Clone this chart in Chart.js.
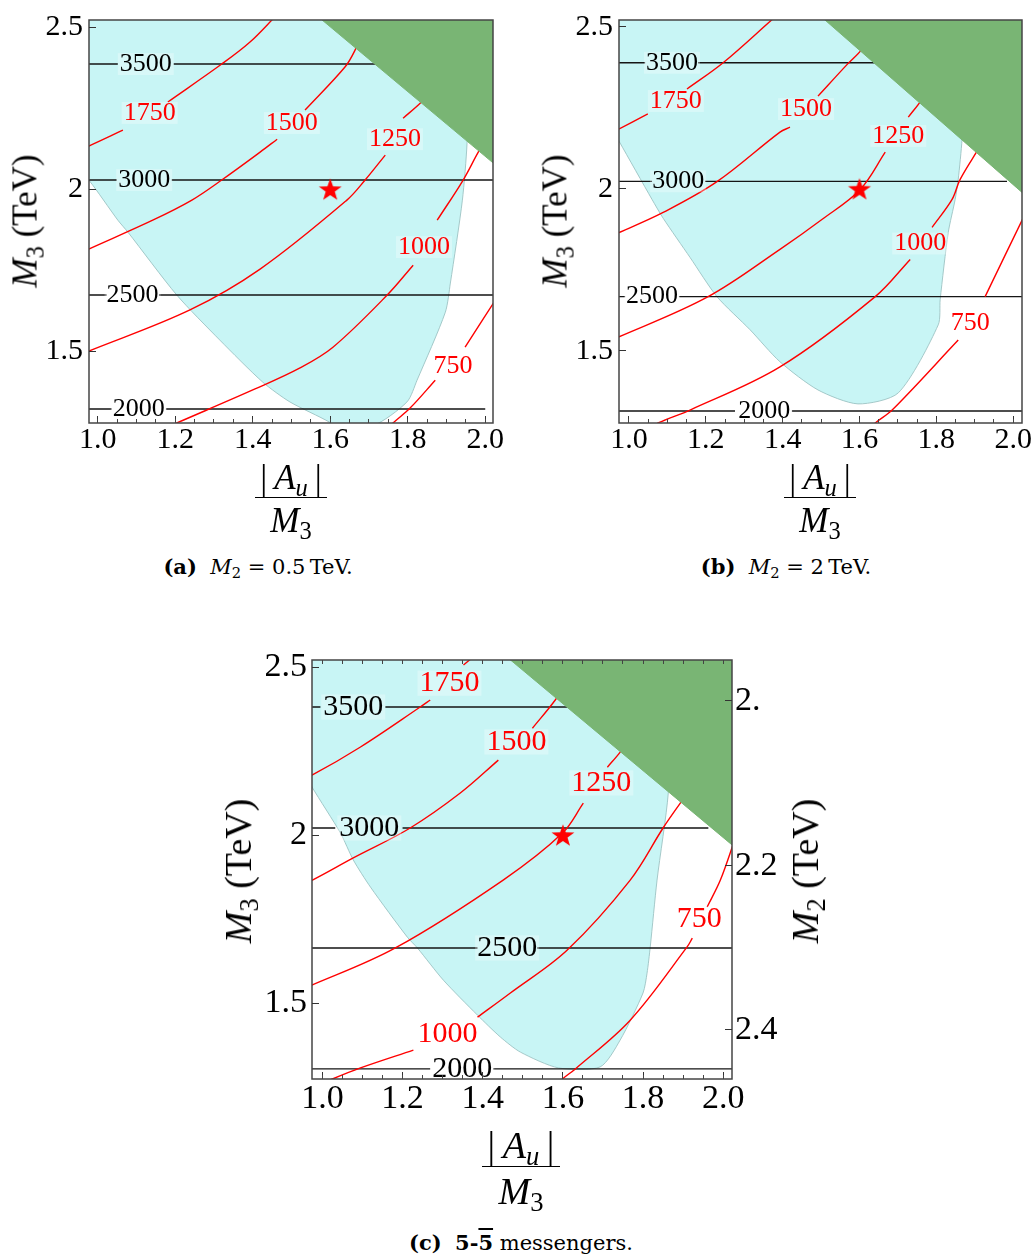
<!DOCTYPE html>
<html><head><meta charset="utf-8">
<script src="https://cdn.jsdelivr.net/npm/chart.js@4.4.1/dist/chart.umd.min.js"></script>
<style>
 html,body{margin:0;padding:0;background:#fff;}
 #wrap{position:relative;width:1035px;height:1256px;overflow:hidden;font-family:'Liberation Serif','Times New Roman',serif;color:#000;}
 canvas{position:absolute;}
 .t{position:absolute;white-space:nowrap;line-height:1;}
 .rot{transform:translate(-50%,-50%) rotate(-90deg);}
 sub{font-size:0.7em;vertical-align:-0.28em;line-height:0;}
 .fr{position:absolute;height:0;border-top:1.6px solid #000;transform:translateX(-50%);}
 .fr .n,.fr .d{position:absolute;left:50%;transform:translateX(-50%);white-space:nowrap;line-height:1;}
 .fr .n{bottom:3px;}
 .fr .d{top:5px;}
 .cap{position:absolute;transform:translate(-50%,-50%);font-family:'DejaVu Serif',serif;font-size:21px;white-space:nowrap;line-height:1;}
 .ov{text-decoration:overline;}
</style></head>
<body><div id="wrap">
<canvas id="ca" width="520" height="470" style="left:0;top:0"></canvas>
<canvas id="cb" width="510" height="470" style="left:525px;top:0"></canvas>
<canvas id="cc" width="560" height="500" style="left:230px;top:640px"></canvas>

<div class="t rot" style="left:25px;top:221px;font-size:35px"><i>M</i><sub>3</sub> (TeV)</div>
<div class="t rot" style="left:555px;top:221px;font-size:35px"><i>M</i><sub>3</sub> (TeV)</div>
<div class="t rot" style="left:238px;top:871px;font-size:38px"><i>M</i><sub>3</sub> (TeV)</div>
<div class="t rot" style="left:805px;top:871px;font-size:38px"><i>M</i><sub>2</sub> (TeV)</div>

<div class="fr" style="left:291px;top:497px;width:72px;font-size:35px"><div class="n">|&thinsp;<i>A</i><sub><i>u</i></sub>&thinsp;|</div><div class="d"><i>M</i><sub>3</sub></div></div>
<div class="fr" style="left:820px;top:497px;width:72px;font-size:35px"><div class="n">|&thinsp;<i>A</i><sub><i>u</i></sub>&thinsp;|</div><div class="d"><i>M</i><sub>3</sub></div></div>
<div class="fr" style="left:521px;top:1166px;width:78px;font-size:38px"><div class="n">|&thinsp;<i>A</i><sub><i>u</i></sub>&thinsp;|</div><div class="d"><i>M</i><sub>3</sub></div></div>

<div class="cap" style="left:258px;top:567px"><b>(a)</b>&nbsp; <i>M</i><sub>2</sub> = 0.5&thinsp;TeV.</div>
<div class="cap" style="left:786px;top:567px"><b>(b)</b>&nbsp; <i>M</i><sub>2</sub> = 2&thinsp;TeV.</div>
<div class="cap" style="left:521px;top:1243px"><b>(c)</b>&nbsp; <b>5-<span class="ov">5</span></b> messengers.</div>
</div>
<script>
// ---------- shared axis data ----------
const xTickValues = [1.0, 1.2, 1.4, 1.6, 1.8, 2.0];
const xTickLabels = ['1.0', '1.2', '1.4', '1.6', '1.8', '2.0'];
const xMinorValues = [1.0,1.05,1.1,1.15,1.2,1.25,1.3,1.35,1.4,1.45,1.5,1.55,1.6,1.65,1.7,1.75,1.8,1.85,1.9,1.95,2.0];
const yTickValues = [1.5, 2.0, 2.5];
const yTickLabels = ['1.5', '2', '2.5'];
const m2TickAt = [2.399, 1.908, 1.420];      // M3 positions of the M2 ticks (panel c, right axis)
const m2TickLabels = ['2.', '2.2', '2.4'];
const starPoint = [1.6, 2.0];
const redLevels = ['1750', '1500', '1250', '1000', '750'];
const blackLevels = ['3500', '3000', '2500', '2000'];

// ---------- panel (a) M2 = 0.5 TeV ----------
const aCyan = [[0.90,2.60],[1.965,2.60],[1.953,2.142],[1.941,1.966],[1.910,1.710],[1.897,1.620],[1.824,1.410],[1.798,1.343],[1.710,1.270],[1.600,1.270],[1.599,1.280],[1.496,1.343],[1.426,1.404],[1.315,1.534],[1.204,1.673],[1.078,1.867],[1.052,1.904],[0.977,2.028],[0.90,2.13]];
const aGreen = [[1.501,2.60],[2.10,2.001],[2.10,2.60]];
const a1750 = [[0.95,2.12],[0.977,2.133],[1.065,2.182],null,[1.181,2.269],[1.320,2.386],[1.393,2.454],[1.460,2.535]];
const a1500 = [[0.95,1.80],[0.977,1.815],[1.142,1.904],[1.243,1.966],[1.320,2.028],[1.419,2.114],[1.463,2.154],null,[1.535,2.244],[1.638,2.377],[1.664,2.429],[1.698,2.522]];
const a1250 = [[0.95,1.488],[0.977,1.500],[1.238,1.627],[1.419,1.753],[1.643,1.966],[1.690,2.028],[1.742,2.105],null,[1.788,2.219],[1.832,2.265],[1.884,2.33]];
const a1000 = [[1.17,1.26],[1.204,1.278],[1.406,1.383],[1.522,1.448],[1.607,1.512],[1.747,1.673],[1.814,1.765],null,[1.876,1.904],[1.943,2.028],[1.982,2.114],[2.03,2.21]];
const a750 = [[1.74,1.25],[1.762,1.278],[1.806,1.324],[1.871,1.410],null,[1.948,1.512],[2.03,1.665]];
const a3500 = [[0.95,2.386],[1.052,2.386],null,[1.196,2.386],[2.05,2.386]];
const a3000 = [[0.95,2.028],[1.049,2.028],null,[1.191,2.028],[2.05,2.028]];
const a2500 = [[0.95,1.673],[1.023,1.673],null,[1.158,1.673],[2.05,1.673]];
const a2000 = [[0.95,1.321],[1.036,1.321],null,[1.176,1.321],[2.0,1.321]];
const aRedAt = [[1.134,2.235],[1.501,2.204],[1.767,2.154],[1.842,1.821],[1.917,1.454]];
const aBlackAt = [[1.124,2.386],[1.120,2.028],[1.090,1.673],[1.106,1.321]];

// ---------- panel (b) M2 = 2 TeV ----------
const bCyan = [[0.90,2.60],[1.888,2.60],[1.867,2.153],[1.857,2.029],[1.849,1.967],[1.831,1.865],[1.810,1.658],[1.805,1.580],[1.701,1.370],[1.596,1.336],[1.492,1.379],[1.393,1.466],[1.315,1.565],[1.229,1.667],[1.159,1.788],[1.089,1.909],[1.060,1.967],[0.974,2.147],[0.90,2.30]];
const bGreen = [[1.434,2.60],[2.10,1.909],[2.10,2.60]];
const b1750 = [[0.95,2.170],[0.973,2.184],[1.049,2.231],null,[1.151,2.308],[1.245,2.389],[1.375,2.525]];
const b1500 = [[0.95,1.855],[0.974,1.865],[1.089,1.927],[1.229,2.022],[1.393,2.175],[1.419,2.190],null,[1.492,2.286],[1.568,2.384],[1.607,2.432],[1.654,2.525]];
const b1250 = [[0.95,1.535],[0.974,1.543],[1.206,1.667],[1.393,1.813],[1.503,1.906],[1.602,1.998],[1.667,2.113],null,[1.727,2.221],[1.763,2.277],[1.81,2.37]];
const b1000 = [[1.06,1.26],[1.076,1.277],[1.159,1.317],[1.393,1.450],[1.641,1.667],[1.732,1.782],null,[1.789,1.881],[1.841,1.967],[1.862,2.029],[1.906,2.116],[1.96,2.22]];
const b750 = [[1.62,1.25],[1.641,1.277],[1.685,1.317],[1.857,1.533],null,[1.927,1.667],[2.03,1.92]];
const b3500 = [[0.95,2.389],[1.042,2.389],null,[1.180,2.389],[2.05,2.389]];
const b3000 = [[0.95,2.023],[1.060,2.023],null,[1.198,2.023],[1.984,2.023]];
const b2500 = [[0.95,1.667],[0.990,1.667],null,[1.130,1.667],[2.05,1.667]];
const b2000 = [[0.95,1.314],[1.276,1.314],null,[1.424,1.314],[2.05,1.314]];
const bRedAt = [[1.122,2.271],[1.461,2.246],[1.701,2.163],[1.758,1.831],[1.888,1.584]];
const bBlackAt = [[1.112,2.389],[1.128,2.023],[1.060,1.667],[1.352,1.314]];

// ---------- panel (c) 5-5bar messengers ----------
const cCyan = [[0.90,2.60],[1.883,2.60],[1.863,2.125],[1.835,1.866],[1.818,1.667],[1.810,1.589],[1.800,1.530],[1.743,1.390],[1.693,1.310],[1.589,1.307],[1.494,1.354],[1.444,1.399],[1.387,1.464],[1.302,1.568],[1.237,1.664],[1.212,1.696],[1.120,1.845],[1.077,1.926],[1.045,2.006],[0.974,2.143],[0.90,2.30]];
const cGreen = [[1.390,2.60],[2.10,1.893],[2.10,2.60]];
const c1750 = [[0.95,2.170],[0.975,2.179],[1.095,2.262],[1.244,2.381],[1.269,2.402],null,[1.352,2.506],[1.382,2.536]];
const c1500 = [[0.95,1.855],[0.975,1.866],[1.077,1.932],[1.219,2.021],[1.344,2.125],[1.439,2.223],null,[1.524,2.318],[1.581,2.402],[1.631,2.491]];
const c1250 = [[0.95,1.545],[0.975,1.554],[1.182,1.664],[1.451,1.866],[1.599,2.006],[1.651,2.095],null,[1.711,2.202],[1.743,2.247],[1.80,2.34]];
const c1000 = [[1.00,1.26],[1.025,1.274],[1.095,1.307],[1.227,1.360],null,[1.387,1.458],[1.469,1.530],[1.611,1.658],[1.768,1.866],[1.850,2.021],[1.893,2.095],[1.95,2.19]];
const c750 = [[1.58,1.25],[1.599,1.274],[1.631,1.304],[1.768,1.449],[1.910,1.667],[1.923,1.693],null,[1.960,1.786],[1.993,1.866],[2.03,1.99]];
const c3500 = [[0.95,2.381],[0.995,2.381],null,[1.157,2.381],[2.05,2.381]];
const c3000 = [[0.95,2.021],[1.032,2.021],null,[1.200,2.021],[1.963,2.021]];
const c2500 = [[0.95,1.664],[1.387,1.664],null,[1.536,1.664],[2.05,1.664]];
const c2000 = [[0.95,1.304],[1.269,1.304],null,[1.426,1.304],[2.05,1.304]];
const cRedAt = [[1.317,2.452],[1.484,2.277],[1.696,2.155],[1.312,1.408],[1.940,1.750]];
const cBlackAt = [[1.077,2.381],[1.117,2.021],[1.461,1.664],[1.349,1.304]];

// ---------- drawing ----------
const FONT = "'Liberation Serif', 'Times New Roman', serif";
const CYAN = '#c8f5f5', GREEN = '#79b574', RED = '#ff0000';

function pts(arr) { return arr.map(p => p ? {x: p[0], y: p[1]} : {x: null, y: null}); }

function starImage(R, color) {
  const s = Math.ceil(2 * R + 4);
  const c = document.createElement('canvas'); c.width = s; c.height = s;
  const g = c.getContext('2d'); g.fillStyle = color; g.beginPath();
  const cx = s / 2, cy = s / 2 + R * 0.095;
  for (let k = 0; k < 10; k++) {
    const ang = -Math.PI / 2 + k * Math.PI / 5, rad = (k % 2) ? R * 0.40 : R;
    g.lineTo(cx + rad * Math.cos(ang), cy + rad * Math.sin(ang));
  }
  g.closePath(); g.fill(); return c;
}

const overlay = {
  id: 'overlay',
  afterDatasetsDraw(chart, args, opts) {
    const {ctx, chartArea: a} = chart; const x = chart.scales.x, y = chart.scales.y;
    ctx.save();
    ctx.beginPath(); ctx.rect(a.left, a.top, a.right - a.left, a.bottom - a.top); ctx.clip();
    for (const g of opts.groups) {
      ctx.font = g.size + 'px ' + FONT; ctx.textAlign = 'center'; ctx.textBaseline = 'middle';
      g.texts.forEach((t, i) => {
        const px = x.getPixelForValue(g.at[i][0]), py = y.getPixelForValue(g.at[i][1]);
        const w = ctx.measureText(t).width;
        ctx.fillStyle = 'rgba(255,255,255,0.3)';
        ctx.fillRect(px - w / 2 - 2, py - g.size * 0.42, w + 4, g.size * 0.84);
        ctx.fillStyle = g.color; ctx.fillText(t, px, py);
      });
    }
    ctx.restore();
    ctx.save(); ctx.strokeStyle = '#454545'; ctx.lineWidth = 1.5;
    ctx.strokeRect(a.left, a.top, a.right - a.left, a.bottom - a.top); ctx.restore();
  }
};

function makePanel(id, P, L) {
  const ds = [];
  ds.push({label: 'allowed', data: pts(P.cyan), fill: 'shape', backgroundColor: CYAN, borderColor: '#9cc3c3', borderWidth: 0.9, pointRadius: 0, tension: 0.25, order: 4});
  P.black.forEach((ln, i) => ds.push({label: 'gluino ' + blackLevels[i], data: pts(ln), borderColor: '#151515', borderWidth: 1.4, pointRadius: 0, fill: false, order: 3}));
  P.red.forEach((ln, i) => ds.push({label: 'stop ' + redLevels[i], data: pts(ln), borderColor: RED, borderWidth: 1.4, pointRadius: 0, fill: false, tension: 0.35, order: 2}));
  ds.push({label: 'excluded', data: pts(P.green), fill: 'shape', backgroundColor: GREEN, borderColor: GREEN, borderWidth: 1, pointRadius: 0, order: 1});
  ds.push({label: 'benchmark', data: [{x: starPoint[0], y: starPoint[1]}], showLine: false, pointStyle: starImage(L.star, RED), pointRadius: L.star, order: 0});

  const tickFont = {family: FONT, size: L.tick};
  const scales = {
    x: {type: 'linear', position: 'bottom', min: L.xmin, max: L.xmax, weight: 1,
      afterBuildTicks: s => { s.ticks = xTickValues.map(v => ({value: v})); },
      afterFit: s => { s.height = L.xh; s.paddingLeft = 0; s.paddingRight = 0; },
      ticks: {font: tickFont, color: '#000', padding: L.xpad, autoSkip: false, maxRotation: 0, callback: (v, i) => xTickLabels[i]},
      grid: {drawOnChartArea: false, drawTicks: true, tickLength: -7, color: '#333', z: 1}, border: {display: false}},
    y: {type: 'linear', position: 'left', min: L.ymin, max: L.ymax, weight: 1,
      afterBuildTicks: s => { s.ticks = yTickValues.map(v => ({value: v})); },
      afterFit: s => { s.width = L.yw; s.paddingTop = 0; s.paddingBottom = 0; },
      ticks: {font: tickFont, color: '#000', padding: L.ypad, autoSkip: false, callback: (v, i) => yTickLabels[i]},
      grid: {drawOnChartArea: false, drawTicks: true, tickLength: -7, color: '#333', z: 1}, border: {display: false}},
    xm: {type: 'linear', position: 'bottom', min: L.xmin, max: L.xmax, weight: 0,
      afterBuildTicks: s => { s.ticks = xMinorValues.map(v => ({value: v})); },
      afterFit: s => { s.height = 0; s.paddingLeft = 0; s.paddingRight = 0; },
      ticks: {display: false},
      grid: {drawOnChartArea: false, drawTicks: true, tickLength: -4, color: '#444', z: 1}, border: {display: false}}
  };
  if (L.right) {
    scales.y2 = {type: 'linear', position: 'right', min: L.ymin, max: L.ymax, weight: 1,
      afterBuildTicks: s => { s.ticks = m2TickAt.map(v => ({value: v})); },
      afterFit: s => { s.width = L.rw; s.paddingTop = 0; s.paddingBottom = 0; },
      ticks: {font: tickFont, color: '#000', padding: 10, autoSkip: false, callback: (v, i) => m2TickLabels[i]},
      grid: {drawOnChartArea: false, drawTicks: true, tickLength: -7, color: '#333', z: 1}, border: {display: false}};
    scales.xt = {type: 'linear', position: 'top', min: L.xmin, max: L.xmax, weight: 0,
      afterBuildTicks: s => { s.ticks = xMinorValues.map(v => ({value: v})); },
      afterFit: s => { s.height = 0; s.paddingLeft = 0; s.paddingRight = 0; },
      ticks: {display: false},
      grid: {drawOnChartArea: false, drawTicks: true, tickLength: -4, color: '#444', z: 1}, border: {display: false}};
  }
  return new Chart(document.getElementById(id), {
    type: 'line',
    data: {datasets: ds},
    options: {
      responsive: false, animation: false, devicePixelRatio: 1, events: [],
      layout: {padding: L.pad},
      scales,
      plugins: {legend: {display: false}, tooltip: {enabled: false},
        overlay: {groups: [
          {texts: redLevels, at: P.redAt, color: RED, size: L.lbl},
          {texts: blackLevels, at: P.blackAt, color: '#000', size: L.lbl}]}}
    },
    plugins: [overlay]
  });
}

makePanel('ca',
  {cyan: aCyan, green: aGreen, red: [a1750, a1500, a1250, a1000, a750], black: [a3500, a3000, a2500, a2000], redAt: aRedAt, blackAt: aBlackAt},
  {xmin: 0.9775, xmax: 2.02, ymin: 1.278, ymax: 2.522, yw: 89, xh: 47, pad: {left: 0, top: 20, right: 27, bottom: 0},
   tick: 30, xpad: 6, ypad: 13, lbl: 26, star: 12});
makePanel('cb',
  {cyan: bCyan, green: bGreen, red: [b1750, b1500, b1250, b1000, b750], black: [b3500, b3000, b2500, b2000], redAt: bRedAt, blackAt: bBlackAt},
  {xmin: 0.974, xmax: 2.023, ymin: 1.277, ymax: 2.521, yw: 94, xh: 47, pad: {left: 0, top: 20, right: 13, bottom: 0},
   tick: 30, xpad: 6, ypad: 13, lbl: 26, star: 12});
makePanel('cc',
  {cyan: cCyan, green: cGreen, red: [c1750, c1500, c1250, c1000, c750], black: [c3500, c3000, c2500, c2000], redAt: cRedAt, blackAt: cBlackAt},
  {xmin: 0.974, xmax: 2.022, ymin: 1.274, ymax: 2.521, yw: 82, xh: 61, rw: 58, right: true, pad: {left: 0, top: 20, right: 0, bottom: 0},
   tick: 34, xpad: 7, ypad: 12, lbl: 30, star: 12});
</script>
</body></html>
